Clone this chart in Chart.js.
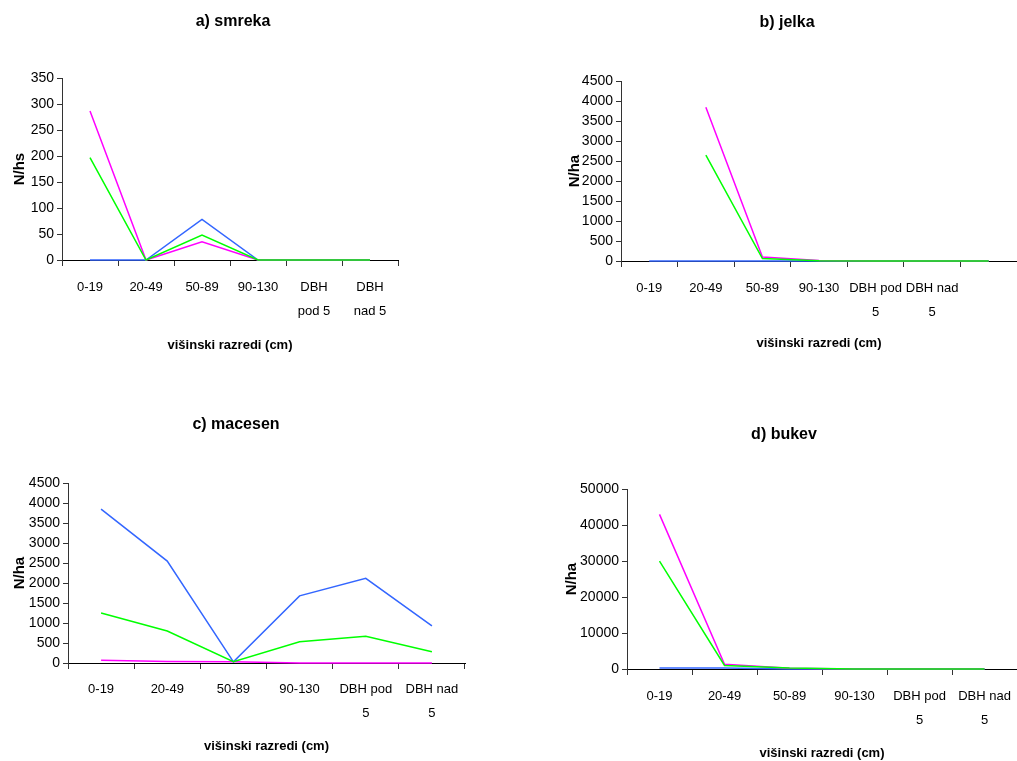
<!DOCTYPE html>
<html>
<head>
<meta charset="utf-8">
<script src="https://cdn.jsdelivr.net/npm/chart.js@4"></script>
<style>
  html, body { margin: 0; padding: 0; background: #fff; overflow: hidden; }
  body { width: 1017px; height: 761px; position: relative; }
  .graf { position: absolute; }
</style>
</head>
<body>
<div class="graf" style="left:0px;top:0px;width:466px;height:353px"><canvas id="smreka"></canvas></div>
<div class="graf" style="left:540px;top:0px;width:494px;height:351px"><canvas id="jelka"></canvas></div>
<div class="graf" style="left:0px;top:400px;width:472px;height:354px"><canvas id="macesen"></canvas></div>
<div class="graf" style="left:540px;top:410px;width:488px;height:351px"><canvas id="bukev"></canvas></div>
<script>
// visinski razredi
const razrediA = ['0-19', '20-49', '50-89', '90-130', ['DBH', 'pod 5'], ['DBH', 'nad 5']];
const razrediB = ['0-19', '20-49', '50-89', '90-130', ['DBH pod', '5'], ['DBH nad', '5'], ''];
const razrediCD = ['0-19', '20-49', '50-89', '90-130', ['DBH pod', '5'], ['DBH nad', '5']];

// a) smreka
const smrekaModra = [0, 0, 78, 0, 0, 0];
const smrekaZelena = [197, 0, 48, 0, 0, 0];
const smrekaRoza = [287, 0, 35, 0, 0, 0];

// b) jelka
const jelkaModra = [0, 0, 0, 0, 0, 0, 0];
const jelkaZelena = [null, 2650, 60, 5, 0, 0, 0];
const jelkaRoza = [null, 3850, 100, 10, 0, 0, 0];

// c) macesen
const macesenModra = [3850, 2550, 30, 1680, 2120, 930];
const macesenZelena = [1250, 800, 30, 530, 670, 280];
const macesenRoza = [70, 40, 30, 0, 0, 0];

// d) bukev
const bukevModra = [300, 300, 0, 0, 0, 0];
const bukevZelena = [30000, 1000, 250, 0, 0, 0];
const bukevRoza = [43000, 1300, 200, 0, 0, 0];

Chart.defaults.font.family = "'Liberation Sans', Arial, sans-serif";
Chart.defaults.color = '#000';

function narisi(id, naslov, razredi, modra, zelena, roza, yMax, yKorak, yNaslov, n) {
    const ctx = document.getElementById(id).getContext('2d');
    return new Chart(ctx, {
        type: 'line',
        data: {
            labels: razredi,
            datasets: [
                { label: 'zelena', data: zelena, borderColor: '#00ff00', borderWidth: 1.5, clip: false },
                { label: 'roza', data: roza, borderColor: '#ff00ff', borderWidth: 1.5, clip: false },
                { label: 'modra', data: modra, borderColor: '#3366ff', borderWidth: 1.5, clip: false }
            ]
        },
        options: {
            responsive: true,
            maintainAspectRatio: false,
            animation: false,
            events: [],
            elements: { point: { radius: 0 }, line: { tension: 0 } },
            layout: { padding: 0 },
            plugins: {
                legend: { display: false },
                tooltip: { enabled: false },
                title: {
                    display: true,
                    text: naslov,
                    font: { size: 16, weight: 'bold', lineHeight: 1.2 },
                    padding: { top: n.naslovTop, bottom: n.naslovBottom }
                }
            },
            scales: {
                x: {
                    type: 'category',
                    offset: true,
                    grid: { offset: true, drawOnChartArea: false, drawTicks: true, tickLength: 6, color: '#333' },
                    border: { display: true, color: '#000', width: 1 },
                    ticks: { font: { size: 13, lineHeight: 1.85 }, padding: n.xPad, maxRotation: 0, autoSkip: false },
                    title: {
                        display: true,
                        text: 'višinski razredi (cm)',
                        font: { size: 13, weight: 'bold', lineHeight: 1.2 },
                        padding: { top: 0, bottom: 0 }
                    },
                    afterFit: s => { s.height = n.xHeight; }
                },
                y: {
                    min: 0,
                    max: yMax,
                    ticks: {
                        stepSize: yKorak,
                        autoSkip: false,
                        font: { size: 14, lineHeight: 1.2 },
                        padding: 3,
                        callback: v => String(v)
                    },
                    grid: { drawOnChartArea: false, drawTicks: true, tickLength: 5, color: '#333' },
                    border: { display: true, color: '#333', width: 1 },
                    title: {
                        display: true,
                        text: yNaslov,
                        font: { size: 15, weight: 'bold', lineHeight: 1.2 },
                        padding: { top: n.yNaslov, bottom: 0 }
                    },
                    afterFit: s => { s.width = n.yWidth; }
                },
                desno: {
                    type: 'linear',
                    position: 'right',
                    display: true,
                    grid: { display: false },
                    border: { display: false },
                    ticks: { display: false },
                    afterFit: s => { s.width = n.desno; }
                }
            }
        }
    });
}

narisi('smreka', 'a) smreka', razrediA, smrekaModra, smrekaZelena, smrekaRoza, 350, 50, 'N/hs',
    { naslovTop: 12, naslovBottom: 47, xPad: 9, xHeight: 93, yNaslov: 11, yWidth: 62, desno: 68 });
narisi('jelka', 'b) jelka', razrediB, jelkaModra, jelkaZelena, jelkaRoza, 4500, 500, 'N/ha',
    { naslovTop: 13, naslovBottom: 49, xPad: 9, xHeight: 90, yNaslov: 26, yWidth: 81, desno: 17 });
narisi('macesen', 'c) macesen', razrediCD, macesenModra, macesenZelena, macesenRoza, 4500, 500, 'N/ha',
    { naslovTop: 15, naslovBottom: 49, xPad: 8, xHeight: 91, yNaslov: 11, yWidth: 68, desno: 7 });
narisi('bukev', 'd) bukev', razrediCD, bukevModra, bukevZelena, bukevRoza, 50000, 10000, 'N/ha',
    { naslovTop: 15, naslovBottom: 45, xPad: 9, xHeight: 92, yNaslov: 23, yWidth: 87, desno: 11 });
</script>
</body>
</html>
